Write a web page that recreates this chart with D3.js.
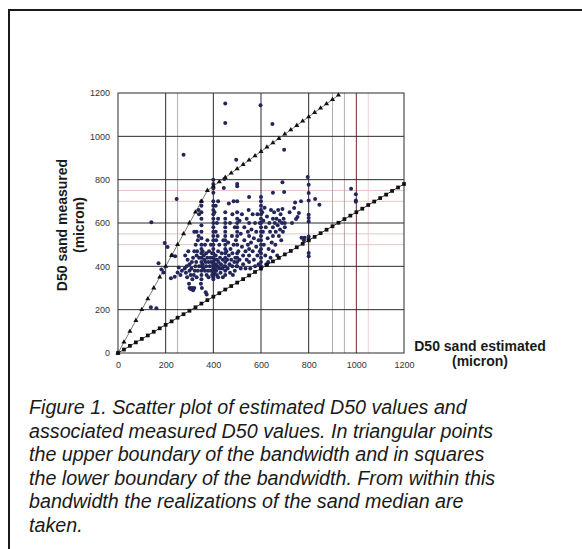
<!DOCTYPE html>
<html>
<head>
<meta charset="utf-8">
<script src="https://cdn.jsdelivr.net/npm/d3@7"></script>
<style>
  html, body { margin: 0; padding: 0; background: #fff; }
  svg { display: block; }
</style>
</head>
<body>
<svg id="fig" width="582" height="549"></svg>
<script>
// Axis ticks (micron)
const xTicks = [0, 200, 400, 600, 800, 1000, 1200];
const yTicks = [0, 200, 400, 600, 800, 1000, 1200];

// Gridlines: major (dark) and minor (light) positions
const majorGridX = [200, 400, 600, 800];
const redGridX = [1000];
const minorGridX = [250, 900, 950];
const faintGridX = [1050];
const majorGridY = [200, 400, 600, 800, 1000];
const minorGridY = [500, 550, 700, 750];

// Upper boundary of the bandwidth (triangles)
const upperX = [0, 25, 50, 75, 100, 125, 150, 175, 200, 225, 250, 275, 300, 325, 350, 375,
  400, 425, 450, 475, 500, 525, 550, 575, 600, 625, 650, 675, 700, 725, 750, 775, 800, 825, 850, 875, 900, 925];
const upperY = [0, 50, 100, 150, 200, 250, 300, 350, 400, 450, 500, 550, 600, 650, 700, 750,
  770, 790, 810, 830, 850, 870, 890, 910, 930, 950, 970, 990, 1010, 1030, 1050, 1070, 1090, 1110, 1130, 1150, 1170, 1190];

// Lower boundary of the bandwidth (squares)
const lowerX = [0, 25, 50, 75, 100, 125, 150, 175, 200, 225, 250, 275, 300, 325, 350, 375, 400, 425, 450, 475,
  500, 525, 550, 575, 600, 625, 650, 675, 700, 725, 750, 775, 800, 825, 850, 875, 900, 925, 950, 975,
  1000, 1025, 1050, 1075, 1100, 1125, 1150, 1175, 1200];
const lowerY = [0, 16, 33, 49, 65, 81, 98, 114, 130, 146, 163, 179, 195, 211, 228, 244, 260, 276, 293, 309,
  325, 341, 358, 374, 390, 406, 423, 439, 455, 471, 488, 504, 520, 536, 553, 569, 585, 601, 618, 634,
  650, 666, 683, 699, 715, 731, 748, 764, 780];

// Samples: [estimated D50, measured D50]
const samples = [
  [140,603],[138,211],[161,206],[170,414],[196,508],[208,489],[191,372],[182,385],
  [222,345],[238,352],[250,372],[262,360],[226,451],[240,446],[246,711],[255,395],[268,380],
  [275,915],[280,390],[285,370],[288,400],[290,350],[292,430],[295,470],[298,320],[300,300],[300,380],[300,410],[282,450],
  [305,295],[310,300],[315,290],[320,300],[312,340],[318,360],[322,380],[325,400],[328,420],[330,450],[332,470],
  [335,520],[338,540],[326,500],[310,420],[315,440],[320,470],[308,390],[305,360],[330,350],[335,380],[340,400],
  [340,440],[340,640],[338,660],[330,560],[320,560],
  [350,700],[350,680],[350,650],[350,620],[350,590],[350,560],[350,530],[350,500],[350,480],[350,460],[350,440],
  [350,420],[350,400],[350,380],[350,360],[350,340],[352,300],[348,320],[355,470],[355,410],[358,390],[360,450],
  [362,430],[365,380],[365,500],[368,420],[370,460],[370,400],[372,360],[375,440],[375,520],[378,380],[380,420],
  [380,350],[382,470],[385,400],[388,440],[390,380],[390,500],[392,420],[395,360],[395,460],[368,280],[372,270],
  [400,800],[400,780],[400,760],[400,740],[400,700],[400,680],[400,660],[400,640],[400,620],[400,600],[400,580],
  [400,560],[400,540],[400,520],[400,500],[400,480],[400,460],[400,440],[400,420],[400,410],[400,400],[400,390],
  [400,380],[400,370],[400,360],[400,350],[400,340],[405,370],[405,430],[408,390],[410,450],[410,410],[412,380],
  [415,430],[415,360],[418,400],[420,470],[420,350],[422,420],[425,390],[425,500],[428,440],[430,370],[432,410],
  [435,460],[438,390],[440,350],[440,430],[442,520],[445,400],[410,560],[415,600],[420,620],[410,680],[420,700],
  [405,650],[412,520],[418,540],
  [446,803],[444,762],[450,650],[450,620],[450,600],[450,580],[450,560],[450,540],[450,520],[450,500],[450,480],
  [450,460],[450,440],[450,420],[450,400],[450,380],[450,360],[455,470],[458,430],[460,390],[462,510],[465,450],
  [468,410],[470,370],[472,480],[475,430],[478,540],[480,400],[480,460],[482,360],[485,500],[488,420],[490,580],
  [490,380],[492,440],[495,520],[498,400],[470,600],[480,640],[465,690],[485,700],[450,1151],[450,1062],
  [496,892],[500,780],[500,770],[500,700],[500,650],[500,620],[500,600],[500,580],[500,560],[500,540],[500,500],
  [500,460],[500,440],[500,420],[500,400],[505,470],[510,430],[510,610],[515,390],[515,550],[520,490],[520,640],
  [525,450],[525,410],[530,580],[530,520],[535,470],[535,390],[540,430],[540,620],[545,500],[545,560],[548,660],
  [550,720],[550,600],[550,540],[550,480],[550,450],[550,420],[555,390],[558,510],[560,570],[565,470],[565,640],
  [570,530],[570,430],[575,600],[575,400],[580,560],[580,490],[585,450],[585,640],[590,520],[590,410],[595,600],[595,470],
  [598,1143],[600,720],[600,700],[600,680],[600,660],[600,640],[600,620],[600,600],[600,580],[600,560],[600,540],
  [600,520],[600,500],[600,480],[600,460],[600,440],[600,420],[600,400],[600,390],[605,650],[608,560],[610,610],
  [612,500],[615,670],[618,450],[620,580],[622,410],[625,630],[628,530],[630,420],[632,480],[635,600],[638,560],
  [640,440],[642,660],[645,510],[648,1057],[650,740],[650,620],[650,580],[650,540],[650,470],[655,650],[658,600],
  [660,500],[662,560],[665,620],[668,450],[670,590],[672,660],[675,540],[678,610],[680,570],[682,640],[685,520],
  [688,600],[690,788],[690,665],[692,560],[695,620],[697,743],[697,938],[700,580],[700,600],
  [743,695],[739,669],[747,618],[720,650],[730,600],[753,628],[759,646],[768,700],[770,532],[783,532],
  [796,812],[800,777],[800,738],[800,704],[800,638],[800,623],[800,607],[800,538],[800,523],[800,461],[800,446],
  [780,520],[827,711],[845,684],[978,758],[998,733],[998,704],[998,698]
];

const captionLines = [
  "Figure 1. Scatter plot of estimated D50 values and",
  "associated measured D50 values. In triangular points",
  "the upper boundary of the bandwidth and in squares",
  "the lower boundary of the bandwidth. From within this",
  "bandwidth the realizations of the sand median are",
  "taken."
];

const svg = d3.select("#fig");
const font = "Liberation Sans, Arial, Helvetica, sans-serif";

// Figure frame (left and top edges)
svg.append("path")
  .attr("d", "M9,549 L9,10 L582,10")
  .attr("fill", "none").attr("stroke", "#1a1a1a").attr("stroke-width", 2);

const plot = { left: 118, right: 404, top: 93, bottom: 353 };
const x = d3.scaleLinear().domain([0, 1200]).range([plot.left, plot.right]);
const y = d3.scaleLinear().domain([0, 1200]).range([plot.bottom, plot.top]);

const g = svg.append("g");

// Gridlines
function vline(vals, color, width) {
  g.selectAll(null).data(vals).enter().append("line")
    .attr("x1", d => x(d)).attr("x2", d => x(d))
    .attr("y1", plot.top).attr("y2", plot.bottom)
    .attr("stroke", color).attr("stroke-width", width);
}
function hline(vals, color, width) {
  g.selectAll(null).data(vals).enter().append("line")
    .attr("y1", d => y(d)).attr("y2", d => y(d))
    .attr("x1", plot.left).attr("x2", plot.right)
    .attr("stroke", color).attr("stroke-width", width);
}
hline(minorGridY, "#e2b8b8", 0.8);
vline(faintGridX, "#e6c8c8", 0.8);
vline(minorGridX, "#a89494", 0.8);
vline(majorGridX, "#2b2b2b", 1);
vline(redGridX, "#6a2a2a", 1);
hline(majorGridY, "#2b2b2b", 1);

// Plot border
g.append("rect")
  .attr("x", plot.left).attr("y", plot.top)
  .attr("width", plot.right - plot.left).attr("height", plot.bottom - plot.top)
  .attr("fill", "none").attr("stroke", "#2b2b2b").attr("stroke-width", 1);

// Axes (labels only, no tick marks)
const fmt = d3.format("d");
const xAxis = d3.axisBottom(x).tickValues(xTicks).tickFormat(fmt).tickSize(0).tickPadding(9);
const yAxis = d3.axisLeft(y).tickValues(yTicks).tickFormat(fmt).tickSize(0).tickPadding(8);
const gx = g.append("g").attr("transform", `translate(0,${plot.bottom})`).call(xAxis);
const gy = g.append("g").attr("transform", `translate(${plot.left},0)`).call(yAxis);
[gx, gy].forEach(a => {
  a.select(".domain").remove();
  a.selectAll("text").attr("font-family", font).attr("font-size", 9).attr("fill", "#333");
});

// Boundary lines
const line = d3.line().x(d => x(d[0])).y(d => y(d[1]));
const upper = upperX.map((v, i) => [v, upperY[i]]);
const lower = lowerX.map((v, i) => [v, lowerY[i]]);
g.append("path").datum(upper).attr("d", line)
  .attr("fill", "none").attr("stroke", "#555").attr("stroke-width", 0.8);
g.append("path").datum(lower).attr("d", line)
  .attr("fill", "none").attr("stroke", "#333").attr("stroke-width", 1);

// Scatter samples
g.selectAll(null).data(samples).enter().append("circle")
  .attr("cx", d => x(d[0])).attr("cy", d => y(d[1]))
  .attr("r", 2).attr("fill", "#23265a");

// Boundary markers
const tri = d3.symbol().type(d3.symbolTriangle).size(11);
g.selectAll(null).data(upper).enter().append("path")
  .attr("d", tri).attr("transform", d => `translate(${x(d[0])},${y(d[1])})`)
  .attr("fill", "#111");
const sq = d3.symbol().type(d3.symbolSquare).size(14);
g.selectAll(null).data(lower).enter().append("path")
  .attr("d", sq).attr("transform", d => `translate(${x(d[0])},${y(d[1])})`)
  .attr("fill", "#111");

// Axis titles
const yTitle = svg.append("text")
  .attr("transform", "translate(67,225) rotate(-90)")
  .attr("text-anchor", "middle")
  .attr("font-family", font).attr("font-weight", "bold").attr("font-size", 14).attr("fill", "#1a1a1a");
yTitle.append("tspan").attr("x", 0).attr("dy", 0).text("D50 sand measured");
yTitle.append("tspan").attr("x", 0).attr("dy", 17).text("(micron)");

svg.append("text").attr("x", 480).attr("y", 351).attr("text-anchor", "middle")
  .attr("font-family", font).attr("font-weight", "bold").attr("font-size", 14).attr("fill", "#1a1a1a")
  .text("D50 sand estimated");
svg.append("text").attr("x", 480).attr("y", 366).attr("text-anchor", "middle")
  .attr("font-family", font).attr("font-weight", "bold").attr("font-size", 14).attr("fill", "#1a1a1a")
  .text("(micron)");

// Caption
svg.append("g").selectAll("text").data(captionLines).enter().append("text")
  .attr("x", 29).attr("y", (d, i) => 414 + i * 23.5)
  .attr("font-family", font).attr("font-style", "italic").attr("font-size", 19.7).attr("fill", "#1a1a1a")
  .text(d => d);
</script>
</body>
</html>
